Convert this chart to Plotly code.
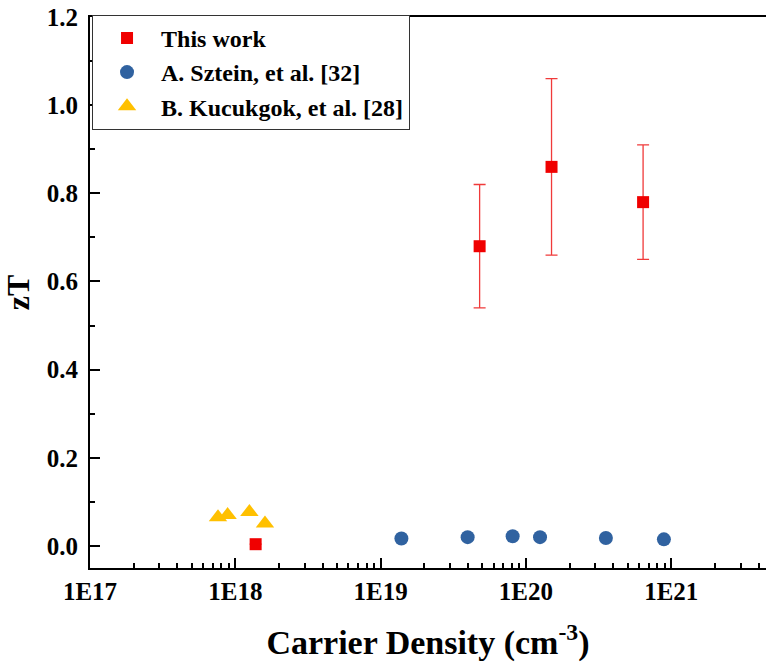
import plotly.graph_objects as go

# This work
tw_x = [1.38e18, 4.8e19, 1.5e20, 6.4e20]
tw_y = [0.004, 0.68, 0.86, 0.78]
tw_err = [0.0, 0.14, 0.20, 0.13]

# A. Sztein, et al. [32]
sz_x = [1.39e19, 3.97e19, 8.1e19, 1.25e20, 3.55e20, 8.9e20]
sz_y = [0.017, 0.020, 0.022, 0.020, 0.018, 0.015]

# B. Kucukgok, et al. [28]
ku_x = [7.6e17, 8.85e17, 1.25e18, 1.6e18]
ku_y = [0.065, 0.070, 0.077, 0.051]

x_tickvals = [1e17, 1e18, 1e19, 1e20, 1e21]
x_ticktext = ["1E17", "1E18", "1E19", "1E20", "1E21"]
y_tickvals = [0.0, 0.2, 0.4, 0.6, 0.8, 1.0, 1.2]
y_ticktext = ["0.0", "0.2", "0.4", "0.6", "0.8", "1.0", "1.2"]

FONT = "Liberation Serif, Times New Roman, serif"

fig = go.Figure()
fig.add_trace(go.Scatter(
    x=tw_x, y=tw_y, mode="markers", name="<b>This work</b>",
    marker=dict(symbol="square", size=12, color="#F00000"),
    error_y=dict(type="data", array=tw_err, visible=True, color="#F03A3A",
                 thickness=1.3, width=6),
))
fig.add_trace(go.Scatter(
    x=sz_x, y=sz_y, mode="markers", name="<b>A. Sztein, et al. [32]</b>",
    marker=dict(symbol="circle", size=14, color="#3062A0"),
))
fig.add_trace(go.Scatter(
    x=ku_x, y=ku_y, mode="markers", name="<b>B. Kucukgok, et al. [28]</b>",
    marker=dict(symbol="triangle-up", size=16, color="#FFC000"),
))

fig.update_layout(
    width=766, height=664,
    margin=dict(l=90, r=0, t=17, b=96, autoexpand=False),
    paper_bgcolor="white", plot_bgcolor="white",
    font=dict(family=FONT, color="black"),
    showlegend=True,
    legend=dict(
        x=0.003, y=1.004, xanchor="left", yanchor="top",
        font=dict(family=FONT, size=24, color="black"),
        bgcolor="white", bordercolor="#333333", borderwidth=1,
        itemwidth=58, tracegroupgap=0,
    ),
)

fig.update_xaxes(
    type="log", range=[17, 21.652], automargin=False,
    tickvals=x_tickvals, ticktext=["<b>%s</b>" % t for t in x_ticktext],
    ticks="inside", ticklen=10, tickwidth=1.5, tickcolor="black",
    minor=dict(ticks="inside", ticklen=5, tickwidth=1.5, tickcolor="black", dtick="D1", showgrid=False),
    showline=True, linecolor="black", linewidth=2, mirror=True,
    showgrid=False, zeroline=False,
    tickfont=dict(family=FONT, size=25, color="black"),
    title=dict(text="<b>Carrier Density (cm<sup>-3</sup>)</b>",
               font=dict(family=FONT, size=34, color="black"), standoff=26),
)
fig.update_yaxes(
    range=[-0.05, 1.2], automargin=False,
    tickvals=y_tickvals, ticktext=["<b>%s</b>" % t for t in y_ticktext],
    ticks="inside", ticklen=10, tickwidth=1.5, tickcolor="black",
    minor=dict(ticks="inside", ticklen=5, tickwidth=1.5, tickcolor="black", dtick=0.1, showgrid=False),
    showline=True, linecolor="black", linewidth=2, mirror=False,
    showgrid=False, zeroline=False,
    ticklabelstandoff=5,
    tickfont=dict(family=FONT, size=25, color="black"),
    title=dict(text="<b>zT</b>", font=dict(family=FONT, size=32, color="black"), standoff=8),
)

fig.write_html("out.html", config={"displayModeBar": False},
               post_script="document.body.style.margin='0px';")
